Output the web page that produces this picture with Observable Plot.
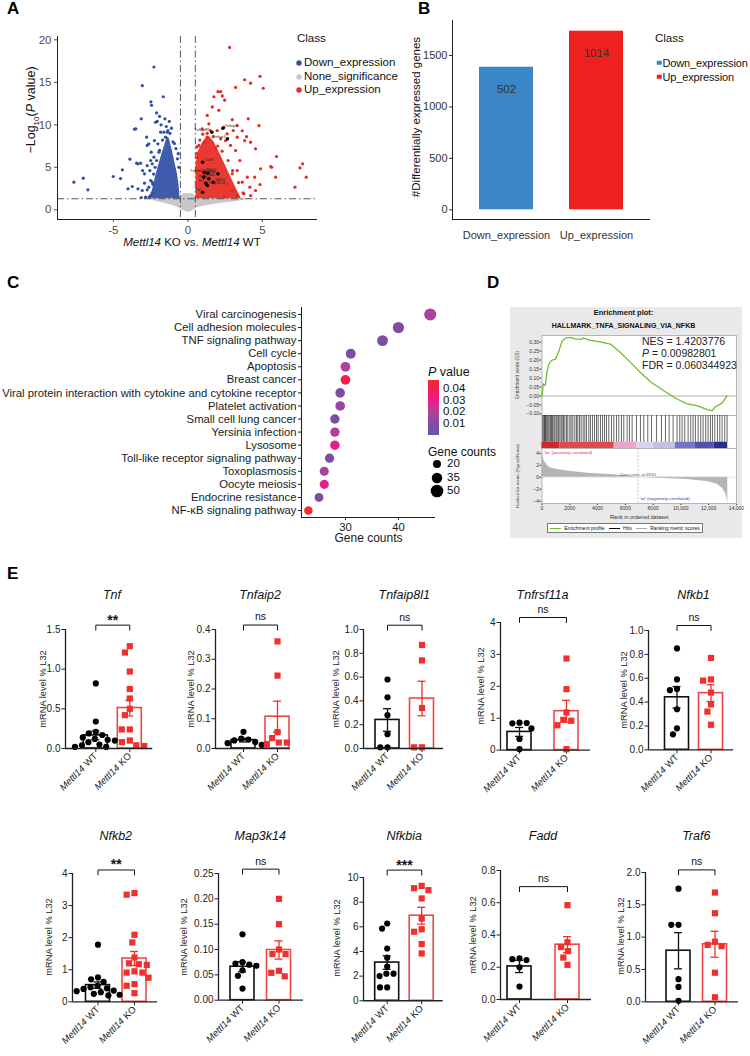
<!DOCTYPE html>
<html><head><meta charset="utf-8">
<script src="https://cdn.jsdelivr.net/npm/d3@7"></script>
<script src="https://cdn.jsdelivr.net/npm/@observablehq/plot@0.6"></script>
<style>
body{margin:0;background:#fff;}
#fig{position:relative;width:750px;height:1056px;overflow:hidden;font-family:"Liberation Sans",Arial,Helvetica,sans-serif;color:#111;background:#fff;}
</style></head><body><div id="fig"></div>
<script>
// ---------------- DATA ----------------
// Panel A: volcano
const fcCut = 0.5, pCut = 1.3;
const volClasses = ["Down_expression", "None_significance", "Up_expression"];
const volColors = ["#2f4ea6", "#c8c8c8", "#e8281f"];
// envelope of dense non-significant cloud: [log2FC, bottom, top]
const grayBand = [[-2.7,1.3,1.3],[-2.2,1.0,1.3],[-1.5,0.75,1.3],[-1.0,0.5,1.3],[-0.6,0.2,1.4],[-0.5,0.1,1.6],[-0.3,-0.1,1.9],[0,-0.3,1.9],[0.3,-0.15,1.9],[0.5,0.1,1.6],[0.6,0.2,1.4],[1.0,0.4,1.3],[1.6,0.6,1.3],[2.4,0.8,1.3],[3.2,0.95,1.3],[4.3,1.3,1.3]];
// envelopes of the dense significant clouds: [log2FC, top]
const blueCore = [[-2.5,1.3],[-2.35,2.5],[-2.15,4.0],[-1.95,5.3],[-1.75,6.5],[-1.55,7.6],[-1.38,8.6],[-1.25,8.4],[-1.05,7.0],[-0.85,5.4],[-0.7,4.2],[-0.6,3.0],[-0.52,1.3]];
const redCore = [[0.55,1.3],[0.55,5.5],[0.7,6.8],[0.95,7.8],[1.2,8.4],[1.45,8.6],[1.75,8.0],[2.1,6.8],[2.5,5.3],[2.9,3.8],[3.3,2.3],[3.6,1.3]];
const downPoints = [[-7.65,3.25],[-7.02,3.72],[-6.71,2.35],[-5.01,3.92],[-4.52,3.68],[-4.40,4.70],[-3.89,5.96],[-4.02,2.47],[-3.73,2.74],[-3.44,5.49],[-3.17,5.49],[-3.35,2.47],[-3.06,2.27],[-2.91,3.13],[-2.73,2.35],[-3.58,9.49],[-3.49,9.53],[-3.13,10.7],[-3.06,14.6],[-2.48,12.7],[-2.44,12.3],[-2.28,16.8],[-2.10,11.4],[-2.06,10.4],[-2.17,10.3],[-1.65,13.3],[-1.54,10.7],[-1.61,9.13],[-1.83,9.13],[-1.38,9.13],[-2.77,8.55],[-2.73,7.57],[-2.62,7.76],[-2.46,6.78],[-2.50,5.80],[-2.39,5.41],[-3.35,5.41],[-3.04,4.62],[-2.91,4.23],[-2.73,5.21],[-2.55,4.62],[-2.28,6.19],[-2.10,5.80],[-1.94,6.78],[-2.24,8.15],[-2.01,7.76],[-1.50,8.55],[-1.34,9.33],[-2.50,3.45],[-2.62,2.66],[-2.39,3.25],[-2.84,1.49],[-2.50,1.68],[-3.13,1.45],[-1.2,9.0],[-1.0,8.0],[-0.8,7.2],[-0.7,6.0],[-0.6,5.0],[-1.1,9.6],[-1.7,8.2],[-1.9,7.0],[-2.2,5.0],[-2.3,4.2],[-2.35,3.0],[-2.4,2.0],[-2.6,1.5],[-0.65,6.6],[-0.9,7.8],[-1.45,9.8],[-1.25,10.4],[-1.8,10.0],[-1.9,11.0]];
const upPoints = [[2.80,19.1],[3.81,15.3],[4.21,14.9],[3.20,14.4],[4.84,15.7],[5.06,14.3],[2.02,13.9],[2.20,13.9],[2.31,13.4],[2.47,12.9],[1.75,13.3],[1.64,12.1],[2.08,11.7],[2.98,10.6],[4.05,10.7],[4.77,9.9],[3.65,9.3],[3.94,8.6],[4.21,7.96],[3.31,8.55],[4.54,7.17],[5.95,6.27],[5.56,5.09],[5.62,5.01],[4.88,4.82],[7.70,5.41],[7.52,4.94],[7.94,3.84],[7.19,2.66],[5.89,3.84],[4.48,3.84],[4.84,2.98],[4.54,2.27],[4.16,2.66],[3.99,3.84],[3.65,3.25],[3.76,1.88],[4.21,1.68],[3.31,1.68],[3.49,5.80],[3.20,6.98],[2.86,7.57],[2.53,8.15],[1.30,11.1],[1.41,10.1],[0.96,9.53],[1.12,7.96],[1.52,9.33],[1.97,9.33],[2.42,9.72],[2.64,8.94],[3.04,9.33],[3.31,9.92],[3.81,8.15],[2.98,4.23],[3.31,4.62],[2.64,3.05],[2.98,2.27],[2.42,1.49],[0.74,7.57],[0.63,6.19],[1.30,8.55],[2.20,8.35],[1.86,7.17],[0.6,7.4],[0.8,8.2],[1.0,8.9],[1.3,9.0],[1.7,8.6],[2.0,7.5],[2.3,6.9],[2.7,5.8],[3.0,4.6],[3.4,3.2],[3.7,2.0],[0.62,6.6]];
const highlightGenes = ["Tnfaip8l1","Tnfaip2","Tnfaip3","Traf6","Tnfrsf11a","Nfkb2","Nfkbia","Fadd","Relb","Nfkb1","Irf1","Map3k14","Tnf"];
const highlightFC = [1.61,2.35,2.66,0.99,1.34,1.10,2.02,1.07,1.41,1.70,1.21,1.30,0.99];
const highlightP = [9.13,9.6,8.35,5.6,4.3,4.4,4.23,3.84,3.64,3.25,3.13,2.86,2.07];

// Panel B
const bClasses = ["Down_expression", "Up_expression"];
const bHeights = [1386, 1736];
const bLabels = ["502", "1014"];
const bColors = ["#3b86c6", "#ee2020"];

// Panel C
const pathways = ["Viral carcinogenesis","Cell adhesion molecules","TNF signaling pathway","Cell cycle","Apoptosis","Breast cancer","Viral protein interaction with cytokine and cytokine receptor","Platelet activation","Small cell lung cancer","Yersinia infection","Lysosome","Toll-like receptor signaling pathway","Toxoplasmosis","Oocyte meiosis","Endocrine resistance","NF-\u03baB signaling pathway"];
const geneCounts = [46,40,37,31,30,30,29,29,28,28,28,27,26,26,25,23];
const pValues = [0.018,0.010,0.008,0.008,0.019,0.042,0.009,0.015,0.008,0.021,0.030,0.008,0.017,0.030,0.008,0.048];
const pLegendTicks = [0.01,0.02,0.03,0.04];
const countLegend = [20,35,50];
const pStops = [0.0,0.01,0.02,0.03,0.04,0.048];
const pStopColors = ["#6c56a9","#7f4ba4","#b2419b","#e81c8c","#f21c5a","#f62b2b"];

// Panel D (GSEA)
const esCurve = [[0,0.0],[60,0.04],[84,0.067],[170,0.06],[252,0.06],[300,0.1],[372,0.14],[492,0.178],[600,0.19],[732,0.20],[971,0.205],[1100,0.23],[1211,0.25],[1451,0.307],[1691,0.322],[2050,0.326],[2300,0.32],[2530,0.317],[2800,0.315],[3010,0.322],[3250,0.315],[3489,0.31],[4209,0.302],[4568,0.295],[4928,0.289],[5647,0.242],[6367,0.187],[7086,0.131],[7806,0.079],[8766,0.029],[9725,-0.017],[10444,-0.044],[11164,-0.054],[11882,-0.076],[12242,-0.082],[12482,-0.06],[12962,-0.04],[13321,0.0]];
const hitRanks = [60,132,180,252,300,372,444,516,612,683,755,851,923,1019,1091,1187,1283,1379,1451,1547,1643,1763,1858,2002,2098,2218,2362,2482,2578,2698,2818,2962,3081,3201,3369,3489,3633,3777,3921,4041,4209,4353,4496,4640,4808,5000,5168,5360,5528,5720,5887,6127,6295,6487,6799,7087,7327,7615,7879,8239,8598,8886,9150,9438,9725,9917,10085,10277,10517,10709,10876,11044,11236,11428,11596,11788,11956,12124,12268,12436,12628,12796,12964,13156,13324];
const bandSegments = [[0,1300,"#d0282c"],[1300,5200,"#e04a4e"],[5200,6800,"#eaa7c5"],[6800,8000,"#d9d3ec"],[8000,9600,"#c6bfe2"],[9600,11000,"#7474c6"],[11000,12400,"#5252b2"],[12400,13370,"#2b2b95"]];
const metricCurve = [[0,4.3],[40,3.6],[84,3.2],[150,2.8],[252,2.4],[400,1.9],[612,1.55],[1091,1.28],[2050,0.94],[3489,0.61],[5168,0.39],[6367,0.17],[6910,0],[8766,-0.22],[10444,-0.39],[11882,-0.72],[12601,-1.2],[12961,-1.8],[13200,-2.6],[13300,-3.4],[13370,-4.4]];
const zeroCross = 6910;
const esTicks = [-0.10,-0.05,0,0.05,0.10,0.15,0.20,0.25,0.30];
const rankTicks = [0,2000,4000,6000,8000,10000,12000,14000];
const metricTicks = [-4,-2,0,2,4];
const gseaStats = ["NES = 1.4203776", "<i>P</i> = 0.00982801", "FDR = 0.060344923"];

// Panel E
const eGenes = ["Tnf","Tnfaip2","Tnfaip8l1","Tnfrsf11a","Nfkb1","Nfkb2","Map3k14","Nfkbia","Fadd","Traf6"];
const eGroups = ["Mettl14 WT", "Mettl14 KO"];
const wtPts = [
  [0.82,0.34,0.21,0.19,0.17,0.14,0.12,0.11,0.10,0.08,0.05,0.04,0.02,0.02],
  [0.056,0.033,0.030,0.027,0.022,0.018,0.012],
  [0.58,0.43,0.28,0.12,0.01,0.01],
  [0.86,0.84,0.85,0.68,0.35,0.03],
  [0.85,0.59,0.51,0.50,0.34,0.18,0.13],
  [1.78,0.76,0.70,0.62,0.50,0.45,0.42,0.40,0.35,0.33,0.30,0.25,0.22,0.20],
  [0.13,0.075,0.072,0.070,0.068,0.059,0.048,0.023],
  [6.27,5.86,4.24,3.5,2.78,2.2,2.2,2.0,1.08,1.08],
  [0.255,0.25,0.245,0.20,0.08],
  [1.75,1.19,1.19,0.35,0.23,0.015]
];
const koPts = [
  [1.29,1.21,0.97,0.75,0.63,0.50,0.42,0.24,0.24,0.10,0.08,0.04,0.03],
  [0.36,0.245,0.055,0.035,0.02,0.02,0.015],
  [0.87,0.74,0.34,0.01,0.01],
  [2.87,1.91,1.18,0.95,0.92,0.78,0.03],
  [0.77,0.59,0.58,0.48,0.38,0.32,0.21],
  [3.39,3.34,2.09,1.85,1.38,1.20,1.17,1.15,0.95,0.91,0.91,0.75,0.55,0.50,0.27],
  [0.20,0.15,0.10,0.091,0.091,0.058,0.054,0.047],
  [9.32,9.13,8.97,8.3,6.67,5.8,5.6,4.6,3.84],
  [0.585,0.355,0.325,0.30,0.26,0.215],
  [1.69,1.37,0.93,0.88,0.86,0.45,0.07]
];
const wtMean = [0.165,0.028,0.24,0.57,0.44,0.52,0.066,3.1,0.205,0.79];
const wtSem  = [0.055,0.006,0.095,0.14,0.09,0.10,0.010,0.55,0.038,0.28];
const koMean = [0.51,0.107,0.42,1.22,0.475,1.35,0.099,6.9,0.34,0.89];
const koSem  = [0.10,0.052,0.145,0.34,0.07,0.22,0.018,0.68,0.05,0.20];
const eYMax = [1.5,0.4,1.0,4,1.0,4,0.25,10,0.8,2.0];
const eTicks = [[0,0.5,1.0,1.5],[0,0.1,0.2,0.3,0.4],[0,0.2,0.4,0.6,0.8,1.0],[0,1,2,3,4],[0,0.2,0.4,0.6,0.8,1.0],[0,1,2,3,4],[0,0.05,0.10,0.15,0.20,0.25],[0,2,4,6,8,10],[0,0.2,0.4,0.6,0.8],[0,0.5,1.0,1.5,2.0]];
const eDecimals = [1,1,1,0,1,0,2,0,1,1];
const eBracket = [1.555,0.415,1.036,4.157,1.042,4.11,0.2586,10.6,0.70,2.04];
const eSignif = ["**","ns","ns","ns","ns","**","ns","***","ns","ns"];
const eYLabel = "mRNA level % L32";

// ---------------- LAYOUT (pixels) ----------------
const eLayout = [
  {axis:64.7, wt:95, ko:129, end:152, top:629.3, bottom:748.3, lab:21},
  {axis:215, wt:243, ko:277, end:290, top:629.3, bottom:748.3, lab:23},
  {axis:363, wt:387, ko:421.5, end:443, top:629.3, bottom:748.3, lab:26},
  {axis:500, wt:519, ko:566, end:590, top:621.7, bottom:749.3, lab:18},
  {axis:648, wt:676.5, ko:710.5, end:733, top:630, bottom:749.3, lab:23},
  {axis:72, wt:97.5, ko:134, end:157, top:872.7, bottom:1001, lab:22},
  {axis:218, wt:242, ko:278.5, end:303, top:873.3, bottom:1000, lab:33},
  {axis:363.3, wt:387, ko:421.5, end:443, top:876.7, bottom:1000, lab:25},
  {axis:500, wt:519, ko:567, end:591, top:870, bottom:999, lab:26},
  {axis:645, wt:678, ko:714.5, end:738, top:871.7, bottom:1001, lab:23}
];
const eTitleY = [595, 836];

// ---------------- HELPERS ----------------
const FONT = '"Liberation Sans", Arial, Helvetica, sans-serif';
const fig = document.getElementById("fig");
const SVGNS = "http://www.w3.org/2000/svg";
function plotStyle(size, color) {
  return {fontFamily: FONT, fontSize: size + "px", color: color, background: "transparent", overflow: "visible"};
}
function mount(node, left, top) {
  node.style.position = "absolute";
  node.style.left = left + "px";
  node.style.top = top + "px";
  fig.appendChild(node);
  return node;
}
function txt(x, y, html, css = "", anchor = "c") {
  const d = document.createElement("div");
  d.innerHTML = html;
  const tr = {c: "translate(-50%,-50%)", l: "translate(0,-50%)", r: "translate(-100%,-50%)", v: "translate(-50%,-50%) rotate(-90deg)", tl: "none"}[anchor];
  d.style.cssText = `position:absolute;left:${x}px;top:${y}px;white-space:nowrap;line-height:1;transform:${tr};${css}`;
  fig.appendChild(d);
  return d;
}
function italicize(svg, words) {
  svg.querySelectorAll("text").forEach(t => {
    const s = t.textContent;
    if (!words.includes(s)) return;
    const parts = s.split(" ");
    t.textContent = "";
    t.setAttribute("font-size", "9.5");
    const a = document.createElementNS(SVGNS, "tspan");
    a.setAttribute("font-style", "italic");
    a.textContent = parts[0];
    const b = document.createElementNS(SVGNS, "tspan");
    b.setAttribute("dx", "3");
    b.textContent = parts.slice(1).join(" ");
    t.appendChild(a); t.appendChild(b);
  });
}

// ---------------- PANEL A ----------------
const vx = [-8.75, 8.7], vy = [-1.14, 20.39];
const vol = Plot.plot({
  width: 330, height: 255, marginLeft: 57, marginRight: 13, marginTop: 36, marginBottom: 36,
  style: plotStyle(11.5, "#4d4d4d"),
  x: {domain: vx, ticks: [-5, 0, 5], tickFormat: d => String(d), tickSize: 3, tickPadding: 3, label: null},
  y: {domain: vy, ticks: [0, 5, 10, 15, 20], tickSize: 3, tickPadding: 3, label: null},
  marks: [
    Plot.areaY(grayBand, {x: d => d[0], y1: d => d[1], y2: d => d[2], fill: volColors[1]}),
    Plot.areaY(blueCore, {x: d => d[0], y1: pCut, y2: d => d[1], fill: volColors[0], fillOpacity: 0.92}),
    Plot.areaY(redCore, {x: d => d[0], y1: pCut, y2: d => d[1], fill: volColors[2], fillOpacity: 0.92}),
    Plot.dot(downPoints, {x: d => d[0], y: d => d[1], r: 1.6, fill: volColors[0]}),
    Plot.dot(upPoints, {x: d => d[0], y: d => d[1], r: 1.6, fill: volColors[2]}),
    Plot.ruleX([-fcCut, fcCut], {stroke: "#444", strokeWidth: 0.9, strokeDasharray: "7,3,1.5,3"}),
    Plot.ruleY([pCut], {stroke: "#444", strokeWidth: 0.9, strokeDasharray: "7,3,1.5,3"}),
    Plot.dot(highlightGenes, {x: (d, i) => highlightFC[i], y: (d, i) => highlightP[i], r: 1.8, fill: "#000"}),
    Plot.text(highlightGenes, {filter: (d, i) => i % 2 === 0, x: (d, i) => highlightFC[i], y: (d, i) => highlightP[i], text: d => d, fontSize: 3.8, dx: -2, dy: -2.5, textAnchor: "end", fill: "#222"}),
    Plot.text(highlightGenes, {filter: (d, i) => i % 2 === 1, x: (d, i) => highlightFC[i], y: (d, i) => highlightP[i], text: d => d, fontSize: 3.8, dx: 2, dy: -2.5, textAnchor: "start", fill: "#222"}),
    Plot.ruleX([vx[0]], {stroke: "#222", strokeWidth: 1}),
    Plot.ruleY([vy[0]], {stroke: "#222", strokeWidth: 1})
  ]
});
mount(vol, 0, 0);
txt(33, 110, "\u2212Log<sub style='font-size:8px'>10</sub>(<i>P</i> value)", "font-size:12.5px;color:#111", "v");
txt(192, 243, "<i>Mettl14</i> KO vs. <i>Mettl14</i> WT", "font-size:11.5px;color:#111");
txt(297, 39, "Class", "font-size:11.5px", "l");
volClasses.forEach((c, i) => {
  const y = 62.7 + i * 13.8;
  txt(299, y, `<svg width="7" height="7" style="display:block"><circle cx="3.5" cy="3.5" r="2.7" fill="${volColors[i]}"/></svg>`);
  txt(304, y, c, "font-size:11.5px", "l");
});

// ---------------- PANEL B ----------------
const by = [-94, 1840], bx = [-0.6, 1.6];
const bIdx = [0, 1];
const bChart = Plot.plot({
  width: 290, height: 255, marginLeft: 77, marginRight: 15, marginTop: 20, marginBottom: 36,
  style: plotStyle(11, "#333"),
  color: {domain: bClasses, range: bColors},
  x: {domain: bx, ticks: [0, 1], tickFormat: i => bClasses[i], tickSize: 0, tickPadding: 12, label: null},
  y: {domain: by, ticks: [0, 500, 1000, 1500], tickFormat: d => String(d), tickSize: 3, tickPadding: 2, label: null},
  marks: [
    Plot.rectY(bIdx, {x1: i => i - 0.3, x2: i => i + 0.3, y1: 0, y2: i => bHeights[i], fill: i => bClasses[i]}),
    Plot.text(bIdx, {x: i => i, y: i => bHeights[i], text: i => bLabels[i], dy: 22, fontSize: 11.5, fill: "#333"}),
    Plot.ruleX([bx[0]], {stroke: "#222", strokeWidth: 1}),
    Plot.ruleY([by[0]], {stroke: "#222", strokeWidth: 1})
  ]
});
mount(bChart, 375, 0);
txt(417, 117, "#Differentially expressed genes", "font-size:11.5px;color:#111", "v");
txt(655, 39, "Class", "font-size:11.5px", "l");
bClasses.forEach((c, i) => {
  const y = 62.7 + i * 14;
  txt(659, y, `<div style="width:4.5px;height:4.5px;background:${bColors[i]}"></div>`);
  txt(662.5, y, c, "font-size:11px;letter-spacing:-0.15px", "l");
});

// ---------------- PANEL C ----------------
const cy = [pathways.length - 1 + 0.535, -0.535], cx = [21.7, 47];
const cIdx = d3.range(pathways.length);
const cChart = Plot.plot({
  width: 440, height: 250, marginLeft: 301, marginRight: 5, marginTop: 7, marginBottom: 33,
  style: plotStyle(11.3, "#1a1a1a"),
  x: {domain: cx, ticks: [30, 40], tickSize: 3, tickPadding: 2, label: null},
  y: {domain: cy, ticks: cIdx, tickFormat: i => pathways[i], tickSize: 3, tickPadding: 2, label: null},
  r: {type: "sqrt", domain: [0, 50], range: [0, 6.3]},
  color: {type: "linear", domain: pStops, range: pStopColors},
  marks: [
    Plot.dot(cIdx, {x: i => geneCounts[i], y: i => i, r: i => geneCounts[i], fill: i => pValues[i]}),
    Plot.ruleX([cx[0]], {stroke: "#222", strokeWidth: 1.1}),
    Plot.ruleY([cy[0]], {stroke: "#222", strokeWidth: 1.1}),
    Plot.text(["Gene counts"], {frameAnchor: "bottom", dy: 21, lineAnchor: "middle", textAnchor: "middle", text: d => d, fontSize: 12, fill: "#1a1a1a"})
  ]
});
mount(cChart, 0, 300);
// legend C
const pMax = pStops[pStops.length - 1];
txt(428, 372, "<i>P</i> value", "font-size:12.5px", "l");
const gbar = document.createElement("div");
gbar.style.cssText = `position:absolute;left:428px;top:380px;width:11px;height:55px;background:linear-gradient(to bottom, ${pStops.map((v,i)=>`${pStopColors[i]} ${(100 - v/pMax*100).toFixed(1)}%`).reverse().join(",")});`;
fig.appendChild(gbar);
pLegendTicks.forEach(v => txt(443, 435 - v / pMax * 55, v.toFixed(2), "font-size:11.5px", "l"));
txt(428, 452, "Gene counts", "font-size:12px", "l");
countLegend.forEach((v, i) => {
  const r = 6.3 * Math.sqrt(v / 50);
  const y = 464 + i * 13.5;
  txt(437, y, `<svg width="14" height="14" style="display:block"><circle cx="7" cy="7" r="${r}" fill="#000"/></svg>`);
  txt(447, y, String(v), "font-size:11.5px", "l");
});

// ---------------- PANEL D ----------------
const dbg = document.createElement("div");
dbg.style.cssText = "position:absolute;left:510px;top:307px;width:232px;height:231px;background:#e9e9e9;";
fig.appendChild(dbg);
const dx = [0, 14000];
const esDom = [-0.109, 0.337];
const d1 = Plot.plot({
  width: 232, height: 82, marginLeft: 31.5, marginRight: 6, marginTop: 2, marginBottom: 0,
  style: plotStyle(5, "#333"),
  x: {domain: dx, axis: null},
  y: {domain: esDom, ticks: esTicks, tickFormat: d3.format(".2f"), tickSize: 2, tickPadding: 1, label: null},
  marks: [
    Plot.frame({fill: "white", stroke: "#b5b5b5"}),
    Plot.ruleY([0], {stroke: "#a0a0a0", strokeWidth: 0.8}),
    Plot.line(esCurve, {x: d => d[0], y: d => d[1], stroke: "#6ebe2a", strokeWidth: 1.3})
  ]
});
mount(d1, 510, 333);
const d2 = Plot.plot({
  width: 232, height: 33, marginLeft: 31.5, marginRight: 6, marginTop: 0, marginBottom: 0,
  style: plotStyle(5, "#333"),
  x: {domain: dx, axis: null},
  y: {domain: [0, 1], axis: null},
  color: {type: "identity"},
  marks: [
    Plot.frame({fill: "white", stroke: "#b5b5b5"}),
    Plot.rect(bandSegments, {x1: d => d[0], x2: d => d[1], y1: 0, y2: 0.19, fill: d => d[2]}),
    Plot.ruleX(hitRanks, {x: d => d, y1: 0.19, y2: 1, stroke: "#000", strokeWidth: 0.6})
  ]
});
mount(d2, 510, 415);
const mDom = [-4.4, 4.8];
const d3c = Plot.plot({
  width: 232, height: 77, marginLeft: 31.5, marginRight: 6, marginTop: 0, marginBottom: 22,
  style: plotStyle(5, "#333"),
  x: {domain: dx, ticks: rankTicks, tickFormat: d => d >= 10000 ? d3.format(",")(d) : String(d), tickSize: 2, tickPadding: 1, label: null},
  y: {domain: mDom, ticks: metricTicks, tickSize: 2, tickPadding: 1, label: null},
  marks: [
    Plot.frame({fill: "white", stroke: "#b5b5b5"}),
    Plot.areaY(metricCurve, {x: d => d[0], y: d => d[1], fill: "#b4b4b4"}),
    Plot.ruleY([0], {stroke: "#c8c8c8", strokeWidth: 0.5}),
    Plot.ruleX([zeroCross], {stroke: "#999", strokeWidth: 0.6, strokeDasharray: "2,1.5"}),
    Plot.text(["'ko' (positively correlated)"], {x: 150, y: 4.1, text: d => d, textAnchor: "start", fontSize: 4.3, fill: "#e03030"}),
    Plot.text(["Zero cross at 6910"], {x: zeroCross, y: 0.45, text: d => d, fontSize: 4.3, fill: "#555"}),
    Plot.text(["'wt' (negatively correlated)"], {x: 7050, y: -3.6, text: d => d, textAnchor: "start", fontSize: 4.3, fill: "#3030c0"}),
    Plot.text(["Rank in ordered dataset"], {frameAnchor: "bottom", dy: 14, lineAnchor: "middle", textAnchor: "middle", text: d => d, fontSize: 5.5, fill: "#333"})
  ]
});
mount(d3c, 510, 448);
txt(518, 375, "Enrichment score (ES)", "font-size:4.8px;color:#444", "v");
txt(518, 476, "Ranked list metric (Signal2Noise)", "font-size:4.3px;color:#444", "v");
txt(623.5, 313, "Enrichment plot:", "font-weight:bold;font-size:7.5px");
txt(623.5, 325, "HALLMARK_TNFA_SIGNALING_VIA_NFKB", "font-weight:bold;font-size:7px");
gseaStats.forEach((s, i) => txt(642, 341 + i * 12, s, "font-size:10.5px;color:#222", "l"));
const dleg = document.createElement("div");
dleg.style.cssText = "position:absolute;left:547px;top:523px;width:156px;height:10px;border:0.8px solid #777;background:#fff;box-sizing:border-box;display:flex;align-items:center;justify-content:space-around;font-size:5px;line-height:1;white-space:nowrap;";
dleg.innerHTML = [["#6ebe2a","Enrichment profile"],["#000","Hits"],["#aaa","Ranking metric scores"]]
  .map(([c, t]) => `<span style="display:flex;align-items:center"><span style="display:inline-block;width:11px;border-top:1px solid ${c};margin-right:3px"></span>${t}</span>`).join("");
fig.appendChild(dleg);

// ---------------- PANEL E ----------------
const KO_RED = "#f0302c", KO_BAR = "#f04848";
const E_BAR = 24;
eGenes.forEach((gene, i) => {
  const L = eLayout[i];
  const mL = 50, mR = 6, mT = 44, mB = 62;
  const plotW = L.end - L.axis, plotH = L.bottom - L.top;
  const pxX = L.ko - L.wt;
  const x0 = -(L.wt - L.axis) / pxX, x1 = x0 + plotW / pxX;
  const pxY = plotH / eYMax[i];
  const hb = E_BAR / 2 / pxX, cap = 4 / pxX, leg = 5 / pxY;
  const groups = [
    {g: 0, mean: wtMean[i], sem: wtSem[i], color: "#111", bar: "#111"},
    {g: 1, mean: koMean[i], sem: koSem[i], color: KO_RED, bar: KO_BAR}
  ];
  const dxW = (L.wt - L.axis) - plotW / 2, dxK = (L.ko - L.axis) - plotW / 2;
  const b = eBracket[i];
  const stars = eSignif[i] !== "ns";
  const marks = [];
  groups.forEach(G => marks.push(Plot.rectY([G], {x1: d => d.g - hb, x2: d => d.g + hb, y1: 0, y2: d => d.mean, fill: "white", stroke: G.bar, strokeWidth: 1.6})));
  marks.push(Plot.dot(wtPts[i], Plot.dodgeX("middle", {y: d => d, r: 3.1, fill: "#000", dx: dxW})));
  marks.push(Plot.dot(koPts[i], Plot.dodgeX("middle", {y: d => d, r: 3.5, symbol: "square", fill: KO_RED, dx: dxK})));
  groups.forEach(G => {
    marks.push(Plot.ruleX([G], {x: d => d.g, y1: d => d.mean - d.sem, y2: d => d.mean + d.sem, stroke: G.color, strokeWidth: 1.3}));
    marks.push(Plot.ruleY([G], {y: d => d.mean + d.sem, x1: d => d.g - cap, x2: d => d.g + cap, stroke: G.color, strokeWidth: 1.3}));
    marks.push(Plot.ruleY([G], {y: d => d.mean - d.sem, x1: d => d.g - cap, x2: d => d.g + cap, stroke: G.color, strokeWidth: 1.3}));
  });
  marks.push(Plot.ruleX([x0], {stroke: "#222", strokeWidth: 1.3}));
  marks.push(Plot.ruleY([0], {stroke: "#222", strokeWidth: 1.3}));
  marks.push(Plot.line([[0, b - leg], [0, b], [1, b], [1, b - leg]], {x: d => d[0], y: d => d[1], stroke: "#111", strokeWidth: 1}));
  marks.push(Plot.text([eSignif[i]], {x: 0.5, y: b, text: d => d, dy: stars ? -5 : -8, fontSize: stars ? 14 : 10.5, fontWeight: stars ? "bold" : "normal", fill: "#111"}));
  const chart = Plot.plot({
    width: plotW + mL + mR, height: plotH + mT + mB,
    marginLeft: mL, marginRight: mR, marginTop: mT, marginBottom: mB,
    style: plotStyle(10, "#222"),
    x: {domain: [x0, x1], ticks: [0, 1], tickFormat: k => eGroups[k], tickRotate: -45, tickSize: 4, tickPadding: 2, label: null},
    y: {domain: [0, eYMax[i]], ticks: eTicks[i], tickFormat: d3.format(`.${eDecimals[i]}f`), tickSize: 3.5, tickPadding: 1.5, label: null},
    marks
  });
  italicize(chart, eGroups);
  mount(chart, L.axis - mL, L.top - mT);
  txt(L.axis - L.lab, (L.top + L.bottom) / 2, eYLabel, "font-size:9.3px;color:#222", "v");
  txt((L.wt + L.ko) / 2, eTitleY[i < 5 ? 0 : 1], `<i>${gene}</i>`, "font-size:12.5px;color:#111");
});

// Panel letters
[["A", 7, 0], ["B", 418, 0], ["C", 7, 274], ["D", 487, 274], ["E", 7, 565]].forEach(([l, x, y]) => txt(x, y, l, "font-weight:bold;font-size:17px;color:#000", "tl"));
</script></body></html>
